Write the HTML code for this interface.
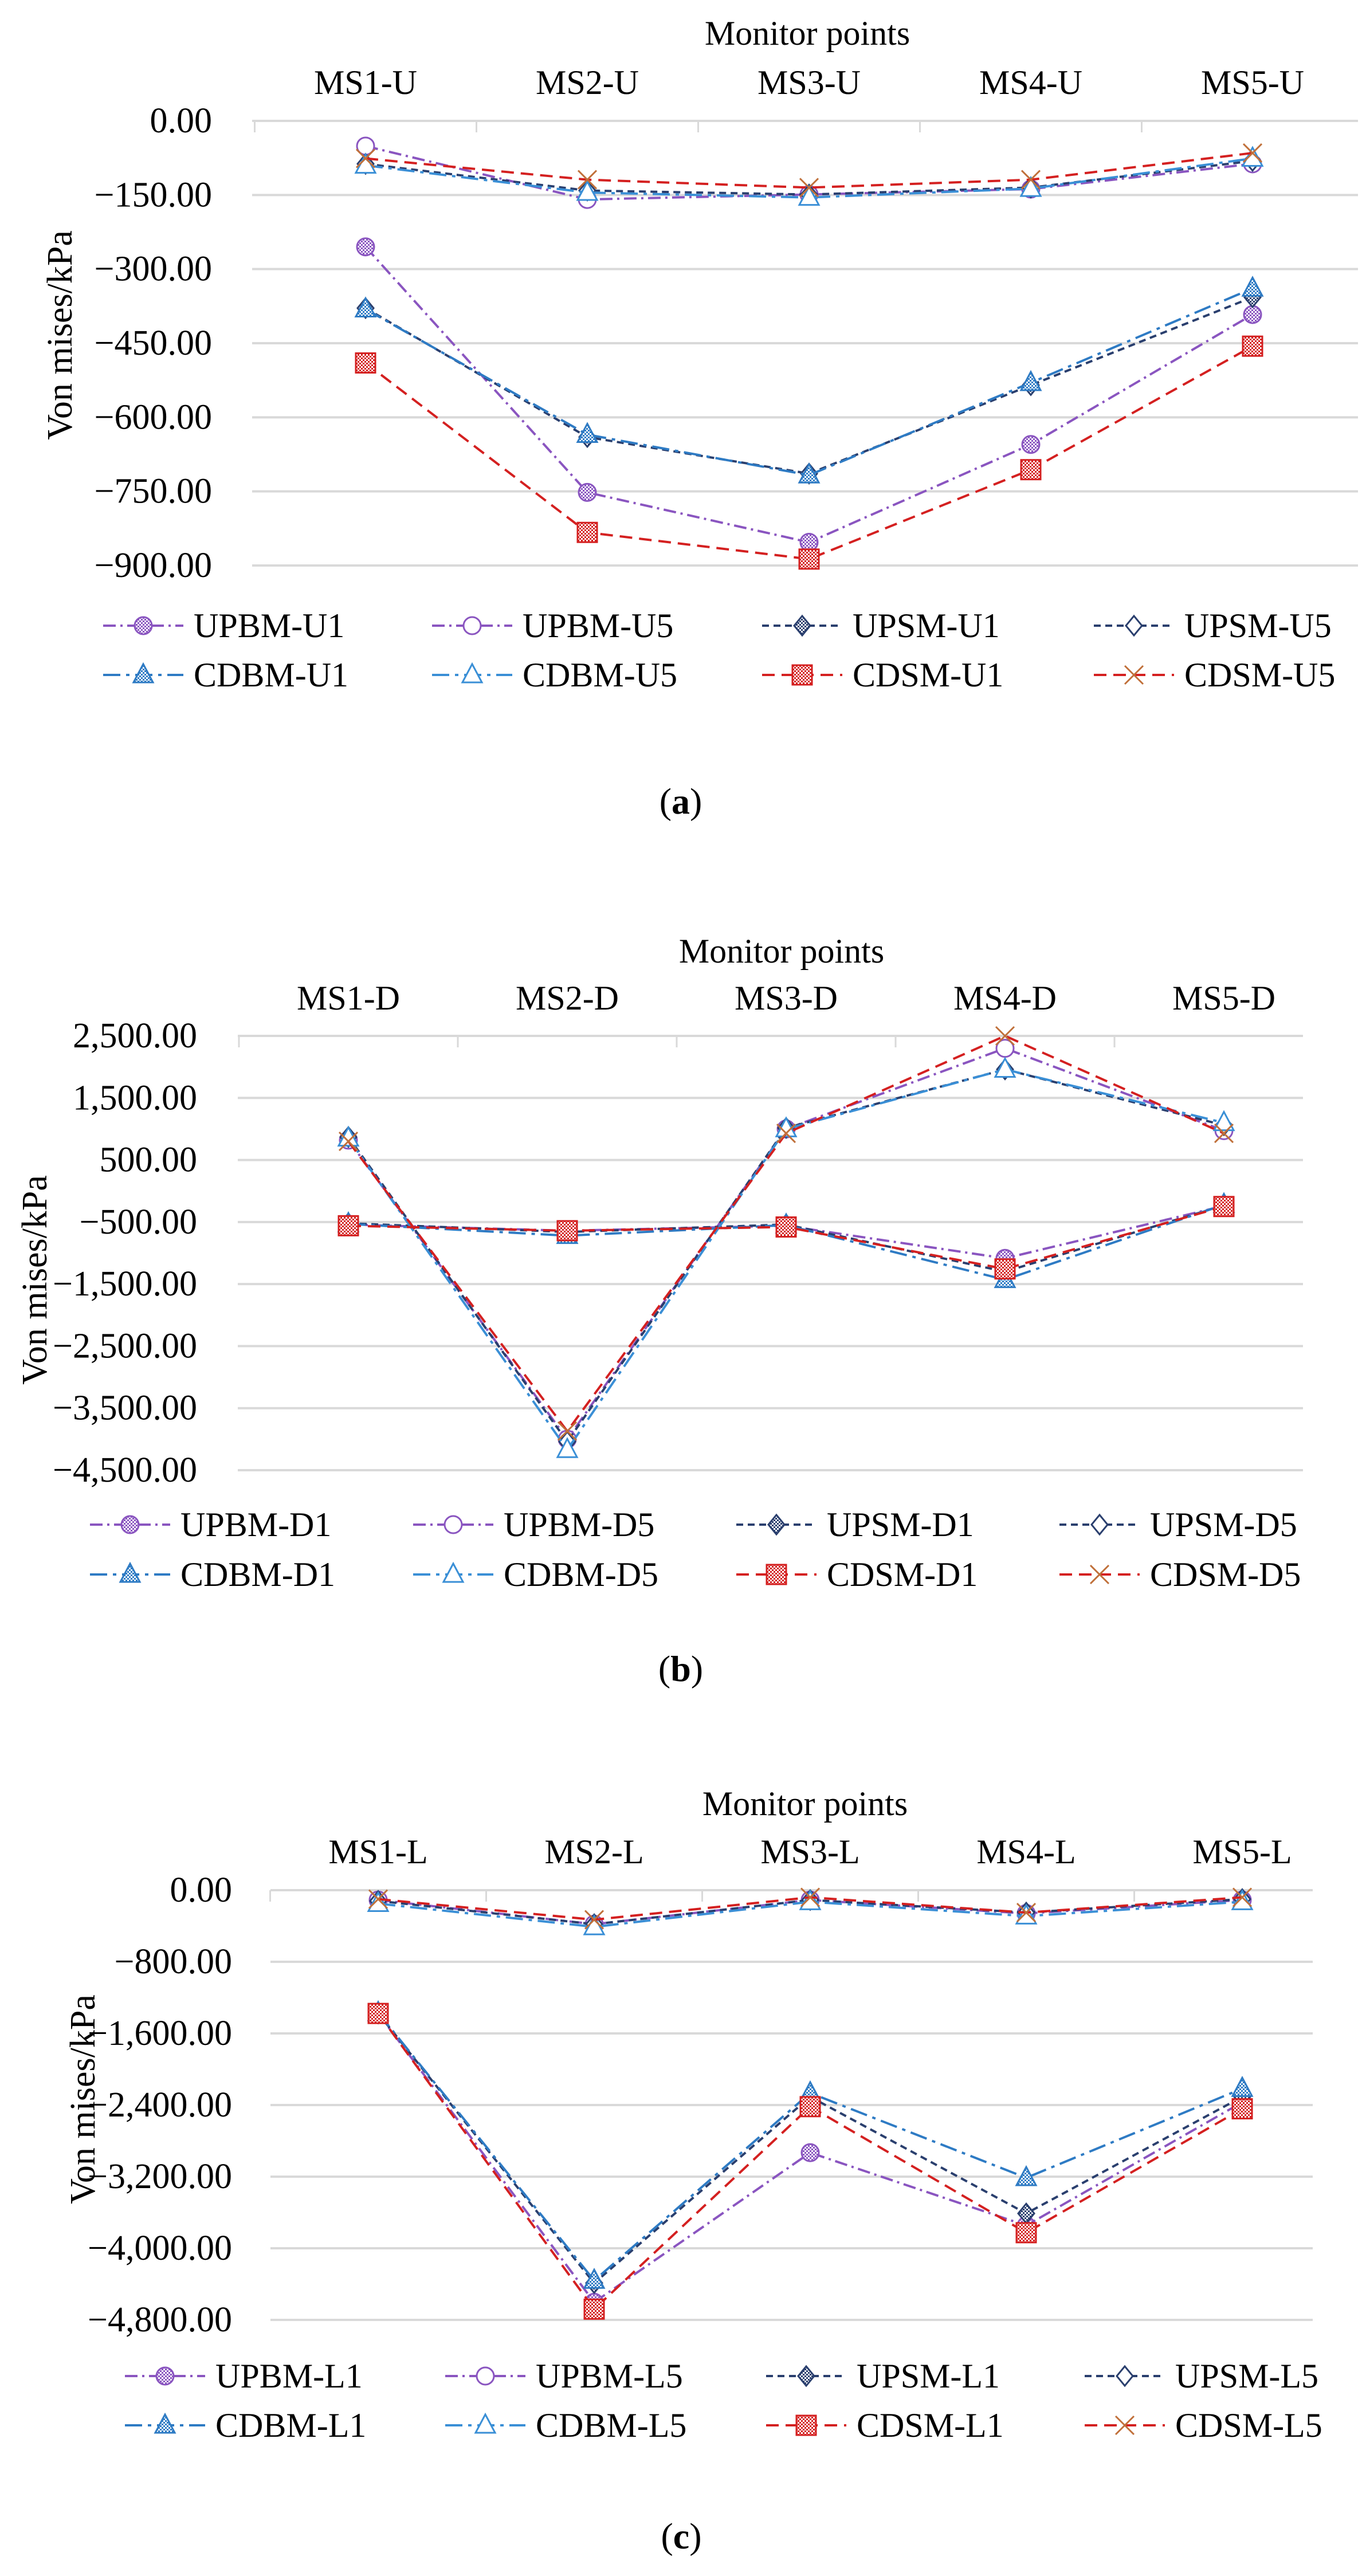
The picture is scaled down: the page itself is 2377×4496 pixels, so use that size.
<!DOCTYPE html>
<html><head><meta charset="utf-8"><title>Von mises charts</title>
<style>
html,body{margin:0;padding:0;background:#fff;}
svg, svg text{font-family:"Liberation Serif","Times New Roman",serif;}
</style></head>
<body>
<svg id="root" width="2377" height="4491" viewBox="0 0 2377 4491" font-family="Liberation Serif, serif" xmlns="http://www.w3.org/2000/svg">
<defs>
<pattern id="hp" width="6" height="6" patternUnits="userSpaceOnUse"><rect width="6" height="6" fill="#fff"/><rect width="3" height="3" fill="#8a55c0"/><rect x="3" y="3" width="3" height="3" fill="#8a55c0"/></pattern>
<pattern id="hn" width="6" height="6" patternUnits="userSpaceOnUse"><rect width="6" height="6" fill="#fff"/><rect width="3" height="3" fill="#2a3f6e"/><rect x="3" y="3" width="3" height="3" fill="#2a3f6e"/></pattern>
<pattern id="hb" width="6" height="6" patternUnits="userSpaceOnUse"><rect width="6" height="6" fill="#fff"/><rect width="3" height="3" fill="#2e7bc4"/><rect x="3" y="3" width="3" height="3" fill="#2e7bc4"/></pattern>
<pattern id="hr" width="6" height="6" patternUnits="userSpaceOnUse"><rect width="6" height="6" fill="#fff"/><rect width="3" height="3" fill="#d42020"/><rect x="3" y="3" width="3" height="3" fill="#d42020"/></pattern>
</defs>
</svg>
<script>
// ---- Chart (a) data ----
const catsA = ['MS1-U','MS2-U','MS3-U','MS4-U','MS5-U'];
const ticksA = [0,-150,-300,-450,-600,-750,-900];
const tickLabelsA = ['0.00','\u2212150.00','\u2212300.00','\u2212450.00','\u2212600.00','\u2212750.00','\u2212900.00'];
const namesA = ['UPBM-U1','UPBM-U5','UPSM-U1','UPSM-U5','CDBM-U1','CDBM-U5','CDSM-U1','CDSM-U5'];
const upbmU1 = [-255,-752,-853,-655,-392];
const upbmU5 = [-51,-159,-149,-138,-87];
const upsmU1 = [-379,-640,-714,-535,-357];
const upsmU5 = [-87,-141,-149,-135,-81];
const cdbmU1 = [-381,-635,-717,-530,-339];
const cdbmU5 = [-90,-145,-155,-137,-76];
const cdsmU1 = [-490,-833,-887,-706,-456];
const cdsmU5 = [-76,-119,-135,-119,-65];

// ---- Chart (b) data ----
const catsB = ['MS1-D','MS2-D','MS3-D','MS4-D','MS5-D'];
const ticksB = [2500,1500,500,-500,-1500,-2500,-3500,-4500];
const tickLabelsB = ['2,500.00','1,500.00','500.00','\u2212500.00','\u22121,500.00','\u22122,500.00','\u22123,500.00','\u22124,500.00'];
const namesB = ['UPBM-D1','UPBM-D5','UPSM-D1','UPSM-D5','CDBM-D1','CDBM-D5','CDSM-D1','CDSM-D5'];
const upbmD1 = [-540,-640,-560,-1085,-240];
const upbmD5 = [820,-4000,1000,2300,973];
const upsmD1 = [-520,-660,-540,-1300,-230];
const upsmD5 = [870,-4040,1016,1960,1060];
const cdbmD1 = [-530,-720,-550,-1430,-220];
const cdbmD5 = [850,-4170,1000,1960,1100];
const cdsmD1 = [-560,-640,-580,-1256,-250];
const cdsmD5 = [800,-3870,930,2500,930];

// ---- Chart (c) data ----
const catsC = ['MS1-L','MS2-L','MS3-L','MS4-L','MS5-L'];
const ticksC = [0,-800,-1600,-2400,-3200,-4000,-4800];
const tickLabelsC = ['0.00','\u2212800.00','\u22121,600.00','\u22122,400.00','\u22123,200.00','\u22124,000.00','\u22124,800.00'];
const namesC = ['UPBM-L1','UPBM-L5','UPSM-L1','UPSM-L5','CDBM-L1','CDBM-L5','CDSM-L1','CDSM-L5'];
const upbmL1 = [-1377,-4603,-2932,-3746,-2369];
const upbmL5 = [-110,-380,-110,-260,-110];
const upsmL1 = [-1377,-4389,-2308,-3611,-2308];
const upsmL5 = [-120,-380,-110,-250,-100];
const cdbmL1 = [-1370,-4360,-2265,-3213,-2216];
const cdbmL5 = [-150,-410,-130,-290,-130];
const cdsmL1 = [-1377,-4680,-2418,-3826,-2442];
const cdsmL5 = [-100,-330,-80,-250,-80];

// series styles (not data)
const styles = [
  {c:'#8a55c0', dash:'22,8,4,8', m:'circle', fill:'url(#hp)'},
  {c:'#8a55c0', dash:'22,8,4,8', m:'circle', fill:'#fff'},
  {c:'#2a3f6e', dash:'12,8', m:'diamond', fill:'url(#hn)'},
  {c:'#2a3f6e', dash:'12,8', m:'diamond', fill:'#fff'},
  {c:'#2e7bc4', dash:'30,10,6,10', m:'tri', fill:'url(#hb)'},
  {c:'#3a8fd6', dash:'30,10,6,10', m:'tri', fill:'#fff'},
  {c:'#d42020', dash:'22,12', m:'square', fill:'url(#hr)'},
  {c:'#d42020', dash:'22,12', m:'x', fill:'none', mc:'#c0703a'}
];

const NS='http://www.w3.org/2000/svg';
const FONT='Liberation Serif, Times New Roman, serif';
const root=document.getElementById('root');
function el(tag, attrs, parent){
  const e=document.createElementNS(NS,tag);
  for(const k in attrs) e.setAttribute(k, attrs[k]);
  if(tag==='text') e.setAttribute('font-family', FONT);
  (parent||root).appendChild(e);
  return e;
}
function marker(g, type, x, y, st){
  const c = st.mc || st.c;
  let e;
  if(type==='circle') e=el('circle',{cx:x,cy:y,r:15,fill:st.fill,stroke:c,'stroke-width':3},g);
  else if(type==='diamond') e=el('polygon',{points:`${x},${y-17} ${x+14},${y} ${x},${y+17} ${x-14},${y}`,fill:st.fill,stroke:c,'stroke-width':3},g);
  else if(type==='tri') e=el('polygon',{points:`${x},${y-19} ${x+17},${y+13} ${x-17},${y+13}`,fill:st.fill,stroke:c,'stroke-width':3},g);
  else if(type==='square') e=el('rect',{x:x-17,y:y-17,width:34,height:34,fill:st.fill,stroke:c,'stroke-width':3},g);
  else { e=el('path',{d:`M${x-16},${y-16}L${x+16},${y+16}M${x+16},${y-16}L${x-16},${y+16}`,stroke:c,'stroke-width':3,fill:'none'},g); }
  return e;
}

function drawChart(id, L, cats, ticks, tickLabels, names, series){
  const g=el('g',{});
  
  
  const vmax=ticks[0], vmin=ticks[ticks.length-1];
  const yS=v=>L.yTop+(vmax-v)/(vmax-vmin)*(L.yBot-L.yTop);
  const xS=i=>L.x0+i*L.dx;
  const t=el('text',{x:L.titleX,y:L.titleY,'font-size':60,'text-anchor':'middle','dominant-baseline':'central',fill:'#000'},g);
  t.textContent='Monitor points';
  
  
  cats.forEach((c,i)=>{
    const e=el('text',{x:xS(i),y:L.catY,'font-size':60,'text-anchor':'middle','dominant-baseline':'central',fill:'#000'},g);
    e.textContent=c;
    
    
  });
  ticks.forEach((v,i)=>{
    const y=yS(v);
    const gl=el('line',{x1:L.pl,x2:L.pr,y1:y,y2:y,stroke:'#d9d9d9','stroke-width':4},g);
    
    
    const tl=el('text',{x:L.labR,y:y,'font-size':62,'text-anchor':'end','dominant-baseline':'central',fill:'#000'},g);
    tl.textContent=tickLabels[i];
    
    
  });
  for(let i=0;i<=cats.length;i++){
    const x=L.x0-L.dx/2+i*L.dx;
    if(x>L.pr) continue;
    const tk=el('line',{x1:x,x2:x,y1:yS(vmax),y2:yS(vmax)+20,stroke:'#d9d9d9','stroke-width':3},g);
    
    
  }
  const yt=el('text',{x:L.ytX,y:L.ytY,'font-size':62,'text-anchor':'middle','dominant-baseline':'central',fill:'#000',transform:`rotate(-90 ${L.ytX} ${L.ytY})`},g);
  yt.textContent='Von mises/kPa';
  
  
  series.forEach((vals,s)=>{
    const st=styles[s];
    const sg=el('g',{},g);
    
    
    const pts=vals.map((v,i)=>xS(i)+','+yS(v)).join(' ');
    el('polyline',{points:pts,fill:'none',stroke:st.c,'stroke-width':4,'stroke-dasharray':st.dash},sg);
    vals.forEach((v,i)=>{
      const m=marker(sg,st.m,xS(i),yS(v),st);
      
      
    });
  });
  names.forEach((n,s)=>{
    const st=styles[s];
    const col=s%4, row=Math.floor(s/4);
    const lx=L.legX[col], ly=L.legY[row];
    const lg=el('g',{},g);
    
    
    el('line',{x1:lx,x2:lx+140,y1:ly,y2:ly,stroke:st.c,'stroke-width':4,'stroke-dasharray':st.dash},lg);
    marker(lg,st.m,lx+70,ly,st);
    const tx=el('text',{x:lx+158,y:ly,'font-size':60,'dominant-baseline':'central',fill:'#000'},lg);
    tx.textContent=n;
  });
  const cap=el('text',{x:L.capX,y:L.capY,'font-size':64,'text-anchor':'middle','dominant-baseline':'central',fill:'#000'},g);
  cap.appendChild(document.createTextNode('('));
  const ts=document.createElementNS(NS,'tspan');
  ts.setAttribute('font-weight','bold');
  ts.textContent=L.cap;
  cap.appendChild(ts);
  cap.appendChild(document.createTextNode(')'));
  
  
}

drawChart('chart-a',
  {titleX:1409,titleY:58,catY:144,x0:638,dx:387,pl:440,pr:2370,yTop:211,yBot:987,labR:370,ytX:105,ytY:585,
   legX:[180,754,1330,1909],legY:[1092,1178],capX:1188,capY:1398,cap:'a'},
  catsA,ticksA,tickLabelsA,namesA,[upbmU1,upbmU5,upsmU1,upsmU5,cdbmU1,cdbmU5,cdsmU1,cdsmU5]);

drawChart('chart-b',
  {titleX:1364,titleY:1660,catY:1742,x0:608,dx:382,pl:415,pr:2274,yTop:1808,yBot:2566,labR:344,ytX:61,ytY:2234,
   legX:[157,721,1285,1849],legY:[2661,2748],capX:1188,capY:2912,cap:'b'},
  catsB,ticksB,tickLabelsB,namesB,[upbmD1,upbmD5,upsmD1,upsmD5,cdbmD1,cdbmD5,cdsmD1,cdsmD5]);

drawChart('chart-c',
  {titleX:1405,titleY:3148,catY:3232,x0:660,dx:377,pl:472,pr:2291,yTop:3299,yBot:4049,labR:405,ytX:145,ytY:3664,
   legX:[218,777,1337,1893],legY:[4147,4233],capX:1189,capY:4426,cap:'c'},
  catsC,ticksC,tickLabelsC,namesC,[upbmL1,upbmL5,upsmL1,upsmL5,cdbmL1,cdbmL5,cdsmL1,cdsmL5]);
</script>
</body></html>
